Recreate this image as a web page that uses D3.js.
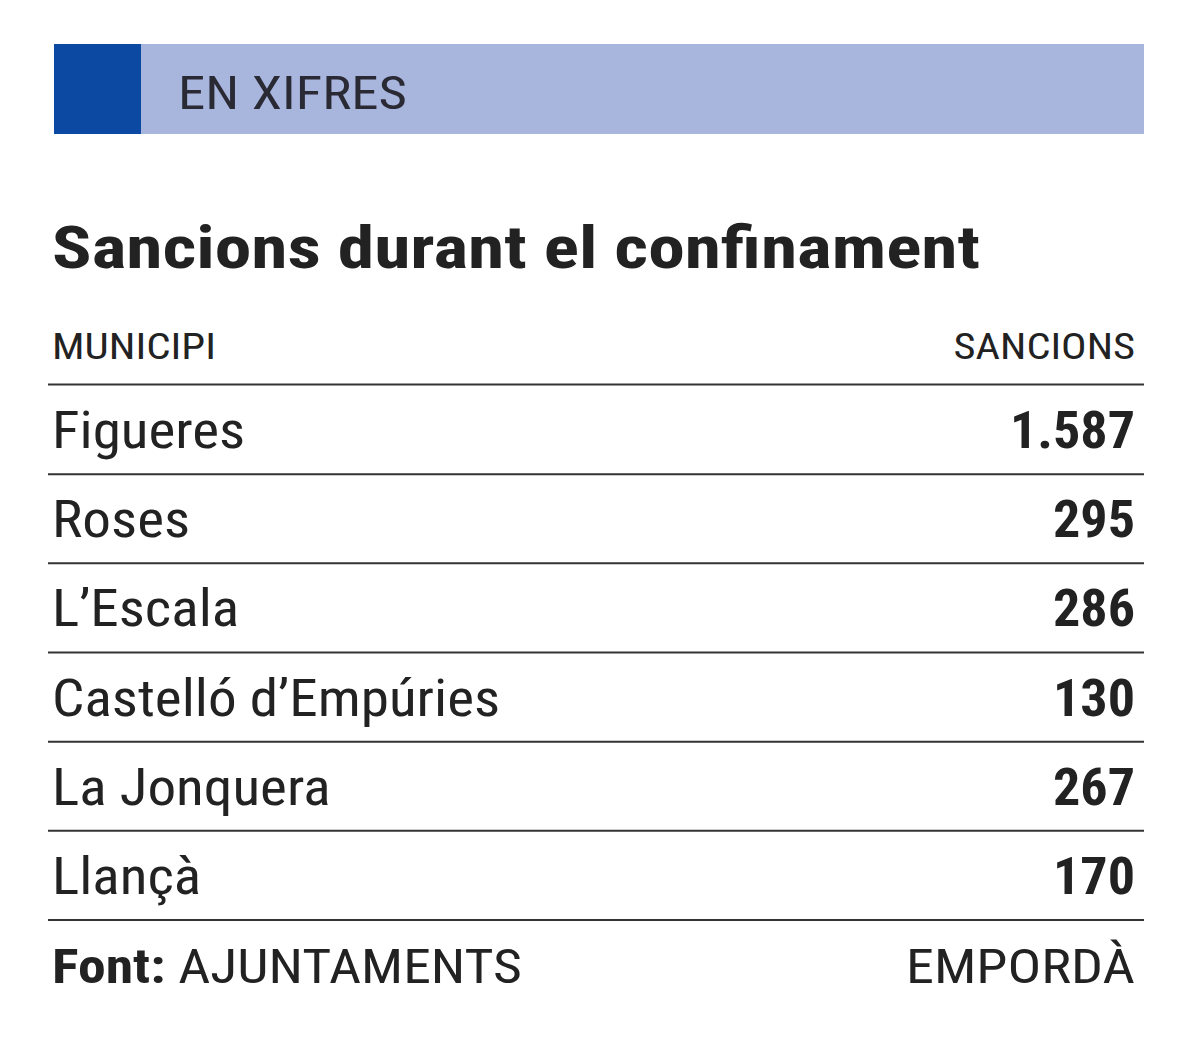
<!DOCTYPE html>
<html><head><meta charset="utf-8">
<script src="https://cdn.jsdelivr.net/npm/d3@7"></script>
<style>body{margin:0;background:#fff}</style></head>
<body><svg id="c" width="1200" height="1058"></svg>
<script>
const municipis = ["Figueres","Roses","L’Escala","Castelló d’Empúries","La Jonquera","Llançà"];
const sancions = [1587,295,286,130,267,170];
const headers = ["MUNICIPI","SANCIONS"];
const svg = d3.select("#c");
const F = "'Liberation Sans Narrow','Roboto Condensed','Open Sans',sans-serif";
const fmt = d3.formatLocale({decimal:",",thousands:".",grouping:[3],currency:["","€"]}).format(",d");
const ink = "#222";
function fit(sel, w){ sel.attr("textLength",w).attr("lengthAdjust","spacingAndGlyphs"); }
function widen(sel, k){ sel.each(function(){ const w=this.getComputedTextLength(); d3.select(this).attr("textLength",w*k).attr("lengthAdjust","spacingAndGlyphs"); }); }

svg.append("rect").attr("x",54).attr("y",44).attr("width",1090).attr("height",90).attr("fill","#a8b5dd");
svg.append("rect").attr("x",54).attr("y",44).attr("width",87).attr("height",90).attr("fill","#0b49a2");
svg.append("text").attr("x",178).attr("y",109).attr("font-family",F).attr("font-size",46).attr("fill","#2a2a35").text("EN XIFRES").call(fit,229);

svg.append("text").attr("x",52).attr("y",268).attr("font-family",F).attr("font-weight","bold").attr("font-size",60).attr("fill",ink).text("Sancions durant el confinament").call(fit,928);

svg.append("text").attr("x",52).attr("y",359).attr("font-family",F).attr("font-size",36).attr("fill",ink).text(headers[0]).call(fit,164);
svg.append("text").attr("x",1135).attr("y",359).attr("text-anchor","end").attr("font-family",F).attr("font-size",36).attr("fill",ink).text(headers[1]).call(widen,1.18);

const y = d3.scaleBand().domain(municipis).range([385,920]);
svg.append("line").attr("x1",48).attr("x2",1144).attr("y1",384.5).attr("y2",384.5).attr("stroke","#333").attr("stroke-width",2);
const g = svg.selectAll("g.row").data(municipis).join("g").attr("transform",d=>`translate(0,${y(d)})`);
g.append("line").attr("x1",48).attr("x2",1144).attr("y1",y.bandwidth()).attr("y2",y.bandwidth()).attr("stroke","#333").attr("stroke-width",2);
g.append("text").attr("x",52).attr("y",63).attr("font-family",F).attr("font-size",52).attr("fill",ink).text(d=>d).call(widen,1.1);
g.append("text").attr("x",1135).attr("y",63).attr("text-anchor","end").attr("font-family",F).attr("font-weight","bold").attr("font-size",52).attr("fill",ink).text((d,i)=>fmt(sancions[i])).call(widen,1.04);

const ft = svg.append("text").attr("x",52).attr("y",983).attr("font-family",F).attr("font-size",48).attr("fill",ink);
ft.append("tspan").attr("font-weight","bold").text("Font:");
ft.append("tspan").text(" AJUNTAMENTS");
ft.call(fit,470);
svg.append("text").attr("x",1135).attr("y",983).attr("text-anchor","end").attr("font-family",F).attr("font-size",48).attr("fill",ink).text("EMPORDÀ").call(fit,229);
</script></body></html>
